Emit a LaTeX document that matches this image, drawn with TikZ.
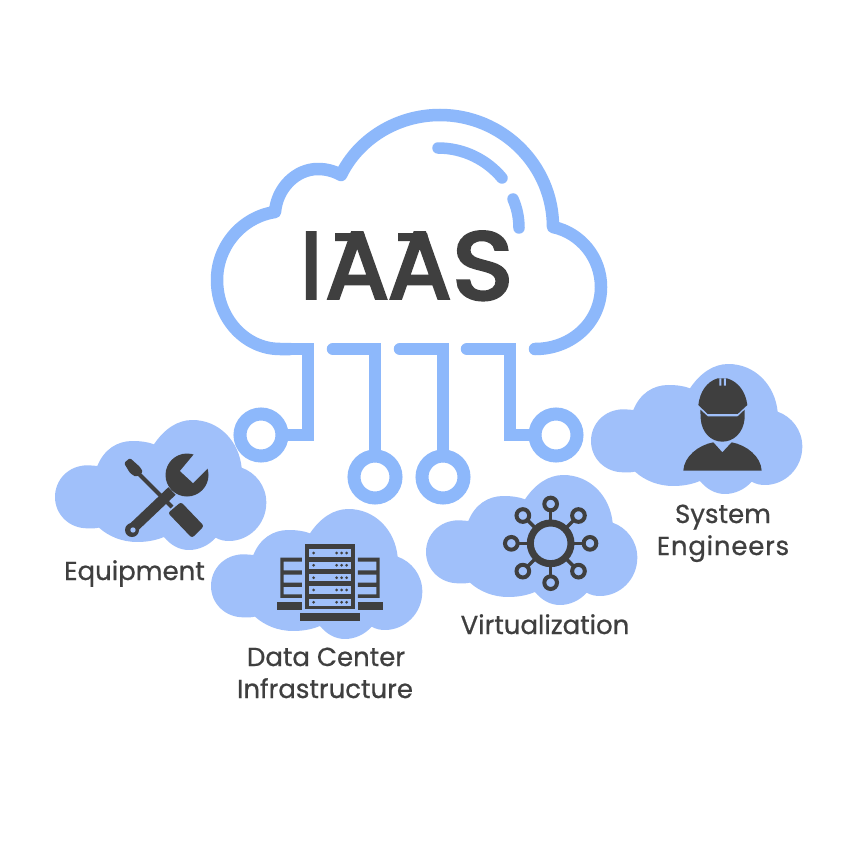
\documentclass[tikz,border=0pt]{standalone}
\usepackage{fontspec}
\setmainfont{Poppins}
\definecolor{outl}{HTML}{8DB8FB}
\definecolor{blob}{HTML}{A0C0FA}
\definecolor{ink}{HTML}{3F3F3F}
\tikzset{
  line/.style={draw=outl,line width=12.5pt,line cap=round,line join=round},
  wire/.style={line,line join=miter},
  term/.style={circle,draw=outl,line width=13pt,minimum size=42pt,inner sep=0pt,outer sep=0pt,fill=white},
  lab/.style={text=ink,font=\fontsize{26}{30}\selectfont\addfontfeature{FakeBold=0.7},anchor=base,inner sep=0pt},
  title/.style={text=ink,anchor=base west,inner sep=0pt},
  blobshape/.pic={
    \fill[blob,shift={(-6,-9)},x=0.3333pt,y=-0.3333pt]
      (145,165) .. controls (165,115) and (205,90) .. (250,90)
      .. controls (275,90) and (297,93) .. (315,100)
      .. controls (345,55) and (385,27) .. (430,27)
      .. controls (510,27) and (570,90) .. (578,170)
      .. controls (620,185) and (652,225) .. (652,275)
      .. controls (652,340) and (600,390) .. (540,390)
      .. controls (525,390) and (512,387) .. (500,380)
      .. controls (480,403) and (450,417) .. (420,417)
      .. controls (390,417) and (365,402) .. (345,378)
      .. controls (320,388) and (295,393) .. (265,393)
      .. controls (220,393) and (180,377) .. (150,350)
      .. controls (140,352) and (128,353) .. (115,352)
      .. controls (60,352) and (18,310) .. (18,258)
      .. controls (18,205) and (60,163) .. (115,163)
      .. controls (125,163) and (135,164) .. (145,165) -- cycle;
  },
  icon/.style={shift={#1},x=0.3333pt,y=-0.3333pt},
}
\begin{document}
\begin{tikzpicture}[x=1pt,y=-1pt]
\fill[white] (0,0) rectangle (850,850);
\useasboundingbox (0,0) rectangle (850,850);
% small clouds
\pic at (55,420) {blobshape};
\pic at (211,509) {blobshape};
\pic at (426,475) {blobshape};
\pic at (591,364) {blobshape};
% big cloud
\draw[line] (290,349) -- (280,349) .. controls (245,349) and (217,318) .. (217,280)
  .. controls (217,246) and (242,217) .. (275,212)
  .. controls (277,188) and (296,169) .. (318,169)
  .. controls (326,169) and (334,171) .. (341,175)
  .. controls (358,140) and (396,115) .. (440,115)
  .. controls (502,115) and (553,165) .. (553,227)
  .. controls (581,233) and (601,258) .. (601,287)
  .. controls (601,322) and (572,349) .. (535,349);
\draw[line,line width=11.5pt] (438,148) .. controls (464,148) and (487,160) .. (502,178);
\draw[line,line width=11.5pt] (513,199) .. controls (517,208) and (519,218) .. (519,228);
% terminals
\node[term] (t1) at (261,435) {};
\node[term] (t2) at (375,477) {};
\node[term] (t3) at (443,477) {};
\node[term] (t4) at (556,435) {};
\coordinate (c1a) at (290,349); \coordinate (c1c) at (308,349); \coordinate (c1b) at (308,435);
\coordinate (c2a) at (333,349); \coordinate (c2b) at (375,349);
\coordinate (c3a) at (400,349); \coordinate (c3b) at (443,349);
\coordinate (c4a) at (467,349); \coordinate (c4b) at (510,349); \coordinate (c4c) at (510,435);
\draw[wire] (c1a) -- (c1c) -- (c1b) -- (t1);
\draw[wire] (c2a) -- (c2b) -- (t2);
\draw[wire] (c3a) -- (c3b) -- (t3);
\draw[wire] (c4a) -- (c4b) -- (c4c) -- (t4);
% title
\node[title] (iaas) at (305,298) {\addfontfeature{FakeBold=4}%
  \hspace{-4pt}\resizebox{20pt}{65pt}{I}\hspace{5pt}%
  \resizebox{62pt}{65pt}{A}\hspace{0.5pt}%
  \resizebox{62pt}{65pt}{A}\hspace{2pt}%
  \raisebox{-1pt}{\resizebox{60pt}{67pt}{S}}};
\fill[ink] (335,233) -- (364,233) -- (366,241) -- (335,241) -- cycle;
\fill[ink] (398,233) -- (427,233) -- (429,241) -- (398,241) -- cycle;
% screwdriver + wrench
\begin{scope}[ink]
  \fill[rounded corners=1.5pt] (124,463) -- (130,458) -- (140,467) -- (143,472) -- (136,477) -- (130,473) -- cycle;
  \draw[line width=4pt] (137,472) -- (172,507);
  \fill[rounded corners=2.5pt] (181,502) -- (204,526) -- (192,538) -- (168,513) -- cycle;
  \fill (187,475) circle[radius=21.5];
  \fill[blob] (195,453) -- (180,471) -- (193,483) -- (210,466) -- (210,450) -- cycle;
  \draw[line width=10.5pt] (172,491) -- (133,528);
  \fill (132,530) circle[radius=7];
  \fill[blob] (133,530) circle[radius=2.7];
\end{scope}
% server
\begin{scope}[icon={(205,505)},ink]
  \fill (301,118) rectangle (449,313);
  \foreach \y in {133,170,207,244,281} {
    \fill[blob] (312,\y) rectangle (438,\y+22);
    \fill (326,\y+11) circle[radius=4.5] (395,\y+11) circle[radius=4.5] (410,\y+11) circle[radius=4.5] (425,\y+11) circle[radius=4.5];
  }
  \fill (286,323) rectangle (464,347);
  \fill (215,291) rectangle (291,314);
  \fill (459,291) rectangle (535,314);
  \fill (226,158) -- (291,158) -- (291,170) -- (236,170) -- (236,196) -- (291,196) -- (291,209) -- (236,209) -- (236,233) -- (291,233) -- (291,246) -- (236,246) -- (236,268) -- (291,268) -- (291,279) -- (226,279) -- cycle;
  \fill (524,158) -- (459,158) -- (459,170) -- (514,170) -- (514,196) -- (459,196) -- (459,209) -- (514,209) -- (514,233) -- (459,233) -- (459,246) -- (514,246) -- (514,268) -- (459,268) -- (459,279) -- (524,279) -- cycle;
\end{scope}
% virtualization
\begin{scope}[icon={(420,470)},ink]
  \foreach \a in {0,45,...,315} {
    \draw[line width=3.5pt] (392,220) -- ++(\a:-100);
    \draw[line width=4pt,fill=blob] (392,220) ++(\a:-118) circle[radius=19];
  }
  \draw[line width=7pt,fill=blob] (392,220) circle[radius=61];
\end{scope}
% person
\begin{scope}[icon={(585,355)},ink]
  \fill (340,150) .. controls (345,110) and (365,80) .. (398,70) -- (426,70)
     .. controls (460,80) and (482,110) .. (487,150) -- (458,177) -- (368,177) -- cycle;
  \fill[blob] (403,70) rectangle (409,92) (417,70) rectangle (423,92);
  \fill (346,164) -- (368,184) -- (458,184) -- (479,164) -- (479,190) .. controls (475,235) and (445,260) .. (412,260)
     .. controls (380,260) and (350,235) .. (347,190) -- cycle;
  \fill (295,347) .. controls (297,305) and (340,270) .. (385,262) -- (412,292) -- (440,262) .. controls (485,270) and (528,305) .. (530,347) -- cycle;
\end{scope}
% labels
\node[lab] (l1) at (134.5,580) {Equipment};
\node[lab] (l2) at (326,666) {Data Center};
\node[lab] (l3) at (325,698) {Infrastructure};
\node[lab] (l4) at (545,634) {Virtualization};
\node[lab] (l5) at (723,523) {System};
\node[lab] (l6) at (723,555) {\addfontfeature{LetterSpace=3}Engineers};
\end{tikzpicture}
\end{document}
